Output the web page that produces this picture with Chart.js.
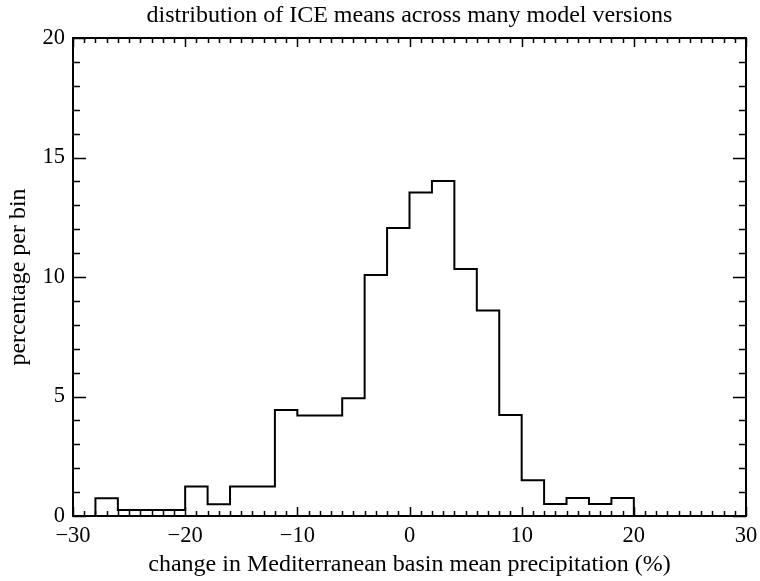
<!DOCTYPE html>
<html>
<head>
<meta charset="utf-8">
<script src="https://cdn.jsdelivr.net/npm/chart.js@4.4.1/dist/chart.umd.min.js"></script>
<style>
  html, body { margin: 0; padding: 0; background: #fff; }
  #wrap { width: 760px; height: 581px; }
</style>
</head>
<body>
<div id="wrap"><canvas id="histChart" width="760" height="581"></canvas></div>
<script>
// Bin left edges (%) and percentage in each bin
const binEdges = [-30, -28, -26, -24, -22, -20, -18, -16, -14, -12, -10, -8, -6,
                  -4, -2, 0, 2, 4, 6, 8, 10, 12, 14, 16, 18, 20];
const binPercent = [0, 0.74, 0.25, 0.25, 0.25, 1.23, 0.49, 1.23, 1.23, 4.44, 4.2, 4.2, 4.93,
                    10.08, 12.05, 13.54, 14.02, 10.33, 8.6, 4.23, 1.5, 0.5, 0.75, 0.5, 0.75, 0];

// Axis ticks
const xTickValues = [-30, -20, -10, 0, 10, 20, 30];
const xTickLabels = ['\u221230', '\u221220', '\u221210', '0', '10', '20', '30'];
const yTickValues = [0, 5, 10, 15, 20];
const yTickLabels = ['0', '5', '10', '15', '20'];

const chartTitle = 'distribution of ICE means across many model versions';
const serif = '"Liberation Serif", "DejaVu Serif", serif';

const histPoints = binEdges.map((x, i) => ({ x: x, y: binPercent[i] }));

// Box around the plot with inward ticks on all four sides, title centred on the plot
const frameTicks = {
    id: 'frameTicks',
    afterDatasetsDraw(chart) {
        const { ctx, chartArea: a, scales } = chart;
        const xs = scales.x, ys = scales.y;
        ctx.save();
        ctx.strokeStyle = '#000';
        ctx.lineWidth = 2;
        ctx.strokeRect(a.left, a.top, a.right - a.left, a.bottom - a.top);
        ctx.lineWidth = 1.5;
        ctx.beginPath();
        for (let v = xs.min; v <= xs.max; v += 1) {
            const px = Math.round(xs.getPixelForValue(v)) + 0.5;
            const len = (v % 10 === 0) ? 9 : 5;
            ctx.moveTo(px, a.bottom); ctx.lineTo(px, a.bottom - len);
            ctx.moveTo(px, a.top); ctx.lineTo(px, a.top + len);
        }
        for (let v = ys.min; v <= ys.max; v += 1) {
            const py = Math.round(ys.getPixelForValue(v)) + 0.5;
            const len = (v % 5 === 0) ? 13 : 7;
            ctx.moveTo(a.left, py); ctx.lineTo(a.left + len, py);
            ctx.moveTo(a.right, py); ctx.lineTo(a.right - len, py);
        }
        ctx.stroke();

        ctx.fillStyle = '#000';
        ctx.font = '24px ' + serif;
        ctx.textAlign = 'center';
        ctx.textBaseline = 'alphabetic';
        ctx.fillText(chartTitle, (a.left + a.right) / 2, 22);
        ctx.restore();
    }
};

new Chart(document.getElementById('histChart').getContext('2d'), {
    type: 'line',
    data: {
        datasets: [{
            data: histPoints,
            stepped: 'before',
            borderColor: '#000',
            borderWidth: 2,
            pointRadius: 0,
            fill: false
        }]
    },
    options: {
        responsive: false,
        animation: false,
        layout: { padding: { left: 0, right: 14, top: 38, bottom: 0 } },
        scales: {
            x: {
                type: 'linear',
                min: -30,
                max: 30,
                afterFit(scale) {
                    scale.height = 65;
                    scale.paddingLeft = 0;
                    scale.paddingRight = 0;
                },
                afterBuildTicks(scale) { scale.ticks = xTickValues.map(v => ({ value: v })); },
                grid: { display: false, drawTicks: false },
                border: { display: false },
                ticks: {
                    padding: 7,
                    color: '#000',
                    maxRotation: 0,
                    font: { family: serif, size: 22.5 },
                    callback: (v) => xTickLabels[xTickValues.indexOf(v)]
                },
                title: {
                    display: true,
                    text: 'change in Mediterranean basin mean precipitation (%)',
                    color: '#000',
                    font: { family: serif, size: 24 },
                    padding: { top: 0, bottom: 2 }
                }
            },
            y: {
                min: 0,
                max: 20,
                afterFit(scale) {
                    scale.width = 73;
                    scale.paddingTop = 0;
                    scale.paddingBottom = 0;
                },
                afterBuildTicks(scale) { scale.ticks = yTickValues.map(v => ({ value: v })); },
                grid: { display: false, drawTicks: false },
                border: { display: false },
                ticks: {
                    padding: 8,
                    color: '#000',
                    font: { family: serif, size: 22.5 },
                    callback: (v) => yTickLabels[yTickValues.indexOf(v)]
                },
                title: {
                    display: true,
                    text: 'percentage per bin',
                    color: '#000',
                    font: { family: serif, size: 24 },
                    padding: { top: 4, bottom: 0 }
                }
            }
        },
        plugins: {
            legend: { display: false },
            tooltip: { enabled: false },
            title: { display: false }
        }
    },
    plugins: [frameTicks]
});
</script>
</body>
</html>
